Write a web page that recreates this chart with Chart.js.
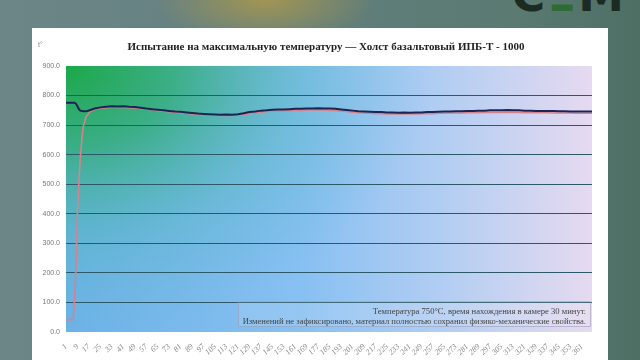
<!DOCTYPE html>
<html>
<head>
<meta charset="utf-8">
<script src="https://cdn.jsdelivr.net/npm/chart.js@4.4.0/dist/chart.umd.min.js"></script>
<style>
  html, body { margin: 0; padding: 0; }
  body {
    width: 640px; height: 360px; overflow: hidden; position: relative;
    background:
      radial-gradient(ellipse 110px 45px at 265px 0px, rgba(165,150,80,0.95), rgba(150,140,80,0) 100%),
      linear-gradient(90deg, #6c8688 0%, #64807f 40%, #5a7a72 80%, #4d6f64 100%);
  }
  #logo {
    position: absolute; right: 14px; top: -32px;
    font: bold 46px "DejaVu Sans", sans-serif; letter-spacing: 2px; color: #1c2a24;
  }
  #logo span { color: #2f6b34; }
  #panel {
    position: absolute; left: 32px; top: 28px; width: 576px; height: 332px; background: #fff;
  }
  #chart { position: absolute; left: 0; top: 0; }
  #title {
    position: absolute; left: 0; width: 588px; top: 12px; text-align: center;
    font: bold 11px "Liberation Serif", serif; color: #222;
  }
  #unit {
    position: absolute; left: 6px; top: 13px; font: 7px "Liberation Sans", sans-serif; color: #888;
  }
  #note {
    position: absolute; left: 206px; top: 273px; width: 353px; height: 26px;
    border: 1px solid rgba(150,150,175,0.55); background: rgba(255,255,255,0.12);
    text-align: right; font: 8.6px "Liberation Serif", serif; color: #444; line-height: 10px;
    box-sizing: border-box; padding: 4px 4px 0 0;
  }
</style>
</head>
<body>
<div id="logo">C<span>Ξ</span>M</div>
<div id="panel">
  <canvas id="chart" width="576" height="332"></canvas>
  <div id="title">Испытание на максимальную температуру — Холст базальтовый ИПБ-Т - 1000</div>
  <div id="unit">t°</div>
  <div id="note">Температура 750°С, время нахождения в камере 30 минут.<br>Изменений не зафиксировано, материал полностью сохранил физико-механические свойства.</div>
</div>
<script>
// точки замера (номер отсчёта) и температура
const chamberX = [1, 7, 8, 9, 10, 11, 13, 16, 18, 21, 25, 29, 33, 37, 41, 45, 49, 53, 57, 61, 65, 69, 73, 77, 81, 85, 89, 93, 97, 101, 105, 109, 113, 117, 121, 125, 129, 133, 137, 141, 145, 149, 153, 157, 161, 165, 169, 173, 177, 181, 185, 189, 193, 197, 201, 205, 209, 213, 217, 221, 225, 229, 233, 237, 241, 245, 249, 253, 257, 261, 265, 269, 273, 277, 281, 285, 289, 293, 297, 301, 305, 309, 313, 317, 321, 325, 329, 333, 337, 341, 345, 349, 353, 357, 361, 365, 368]
const chamberT = [776, 776, 772, 764, 754, 749, 747, 748, 751, 756, 760, 762, 764, 763, 764, 762, 761, 759, 756, 754, 752, 750, 748, 746, 745, 743, 741, 739, 738, 737, 736, 735, 736, 735, 737, 740, 744, 746, 749, 750, 752, 753, 753, 754, 755, 755, 756, 756, 757, 756, 756, 755, 753, 751, 749, 747, 746, 745, 744, 744, 743, 743, 742, 743, 742, 743, 743, 744, 744, 745, 746, 746, 747, 747, 748, 748, 749, 749, 750, 750, 750, 751, 750, 750, 749, 749, 748, 748, 748, 748, 747, 747, 746, 746, 746, 746, 746]

const sampleX = [1, 6, 7, 8, 9, 10, 11, 12, 13, 15, 18, 22, 25, 29, 33, 37, 41, 45, 49, 53, 57, 61, 65, 69, 73, 77, 81, 85, 89, 93, 97, 101, 105, 109, 113, 117, 121, 125, 129, 133, 137, 141, 145, 149, 153, 157, 161, 165, 169, 173, 177, 181, 185, 189, 193, 197, 201, 205, 209, 213, 217, 221, 225, 229, 233, 237, 241, 245, 249, 253, 257, 261, 265, 269, 273, 277, 281, 285, 289, 293, 297, 301, 305, 309, 313, 317, 321, 325, 329, 333, 337, 341, 345, 349, 353, 357, 361, 365, 368]
const sampleT = [42, 42, 110, 225, 410, 510, 590, 650, 695, 728, 746, 755, 757, 759, 760, 760, 760, 759, 758, 756, 754, 752, 749, 747, 745, 744, 742, 740, 738, 737, 736, 735, 734, 733, 733, 733, 734, 736, 739, 742, 744, 746, 747, 748, 749, 749, 750, 750, 751, 751, 751, 751, 750, 749, 748, 746, 744, 742, 741, 740, 739, 739, 738, 738, 738, 738, 738, 738, 739, 739, 739, 740, 740, 741, 741, 741, 742, 742, 742, 743, 743, 743, 743, 743, 743, 743, 742, 742, 742, 742, 742, 741, 741, 741, 741, 740, 740, 740, 740]

const xTicks = [1, 9, 17, 25, 33, 41, 49, 57, 65, 73, 81, 89, 97, 105, 113, 121, 129, 137, 145, 153, 161, 169, 177, 185, 193, 201, 209, 217, 225, 233, 241, 249, 257, 265, 273, 281, 289, 297, 305, 313, 321, 329, 337, 345, 353, 361]
const yTicks = [0, 100, 200, 300, 400, 500, 600, 700, 800, 900]

const toPoints = (xs, ys) => xs.map((x, i) => ({ x: x, y: ys[i] }))

// фон области построения
const plotBg = {
  id: 'plotBg',
  beforeDraw(chart) {
    const { ctx, chartArea: a } = chart
    const w = a.right - a.left, h = a.bottom - a.top
    ctx.save()
    const base = ctx.createLinearGradient(a.left, 0, a.right, 0)
    base.addColorStop(0, '#6cb2e6')
    base.addColorStop(0.45, '#88c0f2')
    base.addColorStop(0.75, '#b8cff2')
    base.addColorStop(1, '#e6daf0')
    ctx.fillStyle = base
    ctx.fillRect(a.left, a.top, w, h)
    ctx.beginPath()
    ctx.rect(a.left, a.top, w, h)
    ctx.clip()
    ctx.translate(a.left, a.top)
    ctx.scale(1.35, 1)
    const g = ctx.createRadialGradient(0, 0, 0, 0, 0, 270)
    g.addColorStop(0, 'rgba(28,168,72,1)')
    g.addColorStop(0.3, 'rgba(45,172,110,0.8)')
    g.addColorStop(0.65, 'rgba(75,182,180,0.35)')
    g.addColorStop(1, 'rgba(90,185,210,0)')
    ctx.fillStyle = g
    ctx.fillRect(0, 0, w, h)
    ctx.restore()
  }
}

new Chart(document.getElementById('chart'), {
  type: 'line',
  data: {
    datasets: [{
      label: 'Камера',
      data: toPoints(chamberX, chamberT),
      borderColor: '#1b2452',
      borderWidth: 2,
      pointRadius: 0,
      tension: 0,
      order: 0
    }, {
      label: 'Образец',
      data: toPoints(sampleX, sampleT),
      borderColor: '#d4838f',
      borderWidth: 1.6,
      pointRadius: 0,
      tension: 0,
      order: 1
    }]
  },
  options: {
    responsive: false,
    animation: false,
    events: [],
    layout: { padding: { top: 38, right: 16, left: 0, bottom: 0 } },
    plugins: { legend: { display: false }, title: { display: false }, tooltip: { enabled: false } },
    scales: {
      x: {
        type: 'linear',
        min: 1,
        max: 368,
        afterBuildTicks: (s) => { s.ticks = xTicks.map(v => ({ value: v })) },
        afterFit: (s) => { s.height = 28 },
        grid: { display: false },
        border: { display: false },
        ticks: {
          autoSkip: false,
          minRotation: 45,
          maxRotation: 45,
          padding: 2,
          color: '#888',
          font: { family: 'Liberation Serif', style: 'italic', size: 8 },
          callback: (v) => String(v)
        }
      },
      y: {
        min: 0,
        max: 900,
        afterBuildTicks: (s) => { s.ticks = yTicks.map(v => ({ value: v })) },
        afterFit: (s) => { s.width = 34 },
        grid: {
          drawTicks: false,
          color: (c) => (c.tick.value === 0 || c.tick.value === 900) ? 'rgba(0,0,0,0)' : '#2c5868',
          lineWidth: 1
        },
        border: { display: false },
        ticks: {
          padding: 6,
          color: '#777',
          font: { family: 'Liberation Sans', size: 7 },
          callback: (v) => v.toFixed(1)
        }
      }
    }
  },
  plugins: [plotBg]
})
</script>
</body>
</html>
